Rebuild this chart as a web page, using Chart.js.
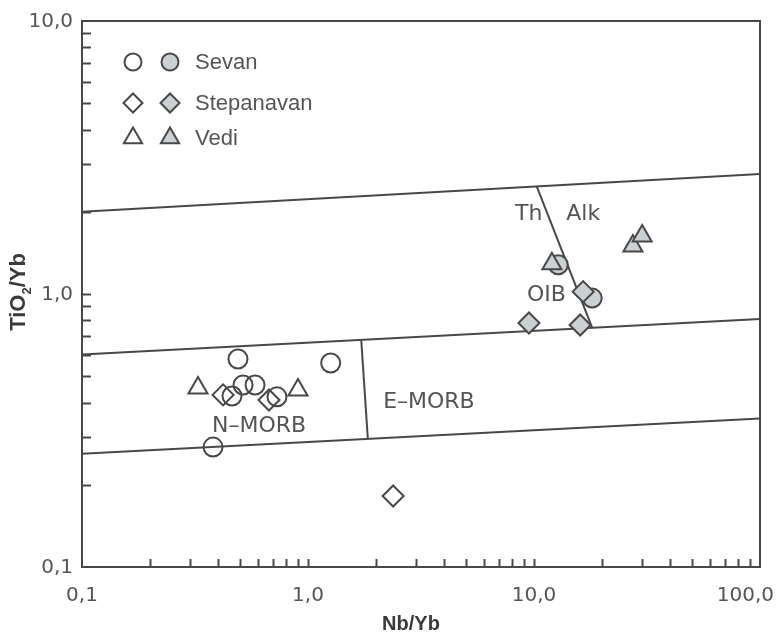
<!DOCTYPE html>
<html>
<head>
<meta charset="utf-8">
<script src="https://cdn.jsdelivr.net/npm/chart.js@4.4.0/dist/chart.umd.min.js"></script>
<style>
  html, body { margin: 0; padding: 0; background: #fff; }
  canvas { display: block; }
</style>
</head>
<body>
<canvas id="graph" width="782" height="636"></canvas>
<script>
// groups shown in the legend
const groups = ["Sevan", "Stepanavan", "Vedi"];

// open symbols (N-MORB field)
const sevanOpenX = [0.49, 1.26, 0.516, 0.583, 0.461, 0.729, 0.38];
const sevanOpenY = [0.578, 0.559, 0.464, 0.464, 0.423, 0.42, 0.275];
const stepanavanOpenX = [0.421, 0.672, 2.38];
const stepanavanOpenY = [0.427, 0.409, 0.182];
const vediOpenX = [0.326, 0.903];
const vediOpenY = [0.453, 0.445];

// filled symbols (OIB field)
const sevanFilledX = [12.8, 18.1];
const sevanFilledY = [1.28, 0.966];
const stepanavanFilledX = [16.5, 9.5, 16.0];
const stepanavanFilledY = [1.02, 0.783, 0.77];
const vediFilledX = [12.0, 27.4, 30.1];
const vediFilledY = [1.29, 1.50, 1.63];

// field boundaries, [Nb/Yb, TiO2/Yb] end points
const upperLine = [[0.1, 2.0], [100, 2.75]];
const middleLine = [[0.1, 0.6], [100, 0.81]];
const lowerLine = [[0.1, 0.26], [100, 0.35]];
const thAlkLine = [[10.3, 2.47], [18.1, 0.752]];
const morbLine = [[1.72, 0.679], [1.84, 0.295]];

// tick labels
const xTicks = [0.1, 1, 10, 100];
const xTickLabels = ["0,1", "1,0", "10,0", "100,0"];
const yTicks = [0.1, 1, 10];
const yTickLabels = ["0,1", "1,0", "10,0"];

// field names, anchored at [Nb/Yb, TiO2/Yb]
const fieldNames = ["Th", "Alk", "OIB", "E\u2013MORB", "N\u2013MORB"];
const fieldAnchors = [[8.24, 1.87], [13.9, 1.87], [9.31, 0.942], [2.15, 0.383], [0.376, 0.313]];

const ink = "#484848";
const grey = "#cbd0d3";
const textCol = "#555555";
const shapes = ["circle", "rectRot", "triangle"];
const radii = [9.5, 10.5, 11];

function pts(xs, ys) {
  return xs.map((v, i) => ({ x: v, y: ys[i] }));
}

function boundary(line) {
  return {
    data: line.map(p => ({ x: p[0], y: p[1] })),
    showLine: true,
    borderColor: ink,
    borderWidth: 2,
    pointRadius: 0,
    fill: false,
    order: 5
  };
}

function markers(label, xs, ys, g, filled) {
  return {
    label: label,
    data: pts(xs, ys),
    pointStyle: shapes[g],
    pointRadius: radii[g],
    pointHoverRadius: radii[g],
    pointBorderWidth: 2,
    pointBorderColor: ink,
    pointBackgroundColor: filled ? grey : "rgba(0,0,0,0)",
    order: 3 - g
  };
}

// same geometry as Chart.js point styles, for the legend
function markerPath(ctx, style, x, y, r) {
  ctx.beginPath();
  if (style === "circle") {
    ctx.arc(x, y, r, 0, Math.PI * 2);
  } else if (style === "rectRot") {
    ctx.moveTo(x - r, y); ctx.lineTo(x, y - r); ctx.lineTo(x + r, y); ctx.lineTo(x, y + r);
  } else {
    let a = 0;
    ctx.moveTo(x + Math.sin(a) * r, y - Math.cos(a) * r);
    a += Math.PI * 2 / 3;
    ctx.lineTo(x + Math.sin(a) * r, y - Math.cos(a) * r);
    a += Math.PI * 2 / 3;
    ctx.lineTo(x + Math.sin(a) * r, y - Math.cos(a) * r);
  }
  ctx.closePath();
}

const decor = {
  id: "decor",
  beforeDatasetsDraw(chart) {
    const { ctx, chartArea: a, scales: { x, y } } = chart;
    ctx.save();
    ctx.strokeStyle = ink;
    ctx.lineWidth = 2;
    ctx.strokeRect(a.left, a.top, a.right - a.left, a.bottom - a.top);
    // inward log ticks
    ctx.beginPath();
    [0.1, 1, 10].forEach(d => {
      for (let k = 1; k <= 9; k++) {
        if (k === 1 && d === 0.1) continue;
        const px = Math.round(x.getPixelForValue(d * k)) + 0.5;
        ctx.moveTo(px, a.bottom);
        ctx.lineTo(px, a.bottom - 8);
      }
    });
    [0.1, 1].forEach(d => {
      for (let k = 1; k <= 9; k++) {
        if (k === 1 && d === 0.1) continue;
        const py = Math.round(y.getPixelForValue(d * k)) + 0.5;
        ctx.moveTo(a.left, py);
        ctx.lineTo(a.left + 9, py);
      }
    });
    ctx.stroke();
    ctx.restore();
  },
  afterDraw(chart) {
    const { ctx, chartArea: a, scales: { x, y } } = chart;
    ctx.save();
    ctx.fillStyle = textCol;

    // tick labels
    ctx.font = "20px 'DejaVu Sans'";
    ctx.textBaseline = "middle";
    ctx.textAlign = "right";
    yTicks.forEach((v, i) => {
      ctx.fillText(yTickLabels[i], a.left - 9, y.getPixelForValue(v) + 1);
    });
    ctx.textBaseline = "top";
    ctx.textAlign = "center";
    xTicks.forEach((v, i) => {
      let px = x.getPixelForValue(v);
      const w = ctx.measureText(xTickLabels[i]).width;
      if (px + w / 2 > chart.width - 8) px = chart.width - 8 - w / 2;
      ctx.fillText(xTickLabels[i], px, a.bottom + 19);
    });

    // axis titles
    ctx.fillStyle = "#3a3a3a";
    ctx.font = "bold 20px 'Liberation Sans'";
    ctx.textBaseline = "alphabetic";
    ctx.textAlign = "center";
    ctx.fillText("Nb/Yb", (a.left + a.right) / 2 - 10, 630);

    ctx.save();
    ctx.translate(25, (a.top + a.bottom) / 2 - 2);
    ctx.rotate(-Math.PI / 2);
    const p1 = "TiO", p2 = "2", p3 = "/Yb";
    ctx.font = "bold 22px 'Liberation Sans'";
    const w1 = ctx.measureText(p1).width, w3 = ctx.measureText(p3).width;
    ctx.font = "bold 13px 'Liberation Sans'";
    const w2 = ctx.measureText(p2).width;
    const sx = -(w1 + w2 + w3) / 2;
    ctx.textAlign = "left";
    ctx.font = "bold 22px 'Liberation Sans'";
    ctx.fillText(p1, sx, 0);
    ctx.font = "bold 13px 'Liberation Sans'";
    ctx.fillText(p2, sx + w1, 6);
    ctx.font = "bold 22px 'Liberation Sans'";
    ctx.fillText(p3, sx + w1 + w2, 0);
    ctx.restore();

    // field names
    ctx.fillStyle = textCol;
    ctx.font = "22px 'DejaVu Sans'";
    ctx.textAlign = "left";
    ctx.textBaseline = "alphabetic";
    fieldNames.forEach((t, i) => {
      ctx.fillText(t, x.getPixelForValue(fieldAnchors[i][0]), y.getPixelForValue(fieldAnchors[i][1]));
    });

    // legend
    const rowY = [41, 82, 117];
    const legR = [8.5, 9.5, 10.5];
    ctx.font = "22px 'Liberation Sans'";
    ctx.textBaseline = "middle";
    ctx.strokeStyle = ink;
    ctx.lineWidth = 2;
    groups.forEach((g, i) => {
      const cy = a.top + rowY[i];
      markerPath(ctx, shapes[i], a.left + 51, cy, legR[i]);
      ctx.stroke();
      markerPath(ctx, shapes[i], a.left + 88, cy, legR[i]);
      ctx.fillStyle = grey;
      ctx.fill();
      ctx.stroke();
      ctx.fillStyle = textCol;
      ctx.fillText(g, a.left + 113, cy + 1);
    });
    ctx.restore();
  }
};

new Chart(document.getElementById("graph"), {
  type: "scatter",
  data: {
    datasets: [
      boundary(upperLine),
      boundary(middleLine),
      boundary(lowerLine),
      boundary(thAlkLine),
      boundary(morbLine),
      markers("Sevan", sevanOpenX, sevanOpenY, 0, false),
      markers("Stepanavan", stepanavanOpenX, stepanavanOpenY, 1, false),
      markers("Vedi", vediOpenX, vediOpenY, 2, false),
      markers("Sevan", sevanFilledX, sevanFilledY, 0, true),
      markers("Stepanavan", stepanavanFilledX, stepanavanFilledY, 1, true),
      markers("Vedi", vediFilledX, vediFilledY, 2, true)
    ]
  },
  options: {
    responsive: false,
    animation: false,
    events: [],
    layout: { padding: { left: 82, top: 21, right: 22, bottom: 69 } },
    plugins: {
      legend: { display: false },
      tooltip: { enabled: false }
    },
    scales: {
      x: { type: "logarithmic", min: 0.1, max: 100, display: false },
      y: { type: "logarithmic", min: 0.1, max: 10, display: false }
    }
  },
  plugins: [decor]
});
</script>
</body>
</html>
